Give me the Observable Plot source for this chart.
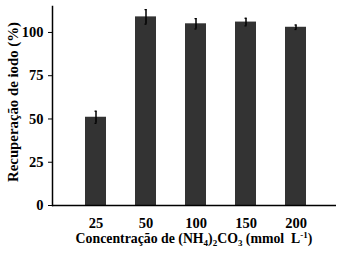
<!DOCTYPE html>
<html><head><meta charset="utf-8">
<script src="https://cdn.jsdelivr.net/npm/d3@7"></script>
<script src="https://cdn.jsdelivr.net/npm/@observablehq/plot@0.6"></script>
<style>body{margin:0;background:#fff}</style>
</head><body><div id="chart"></div>
<script>
const categories = ["25", "50", "100", "150", "200"];
const values = [51, 109, 105, 106, 103];
const errors = [3.5, 4.2, 3, 2.2, 1.3];
const yTicks = [0, 25, 50, 75, 100];
const yLabel = "Recuperação de iodo (%)";
const xLabelParts = [
  ["Concentração de (NH", "n"], ["4", "sub"], [")", "n"], ["2", "sub"], ["CO", "n"], ["3", "sub"],
  [" (mmol\u00a0\u00a0L", "n"], ["-1", "sup"], [")", "n"]
];
const data = categories.map((c, i) => ({c, v: values[i], e: errors[i]}));
const font = "'Liberation Serif', 'Times New Roman', serif";

const plot = Plot.plot({
  width: 340, height: 253,
  marginLeft: 52, marginRight: 4, marginTop: 6, marginBottom: 48,
  style: {fontFamily: font, fontWeight: "bold", fontSize: "14.5px", color: "#000", background: "#fff"},
  x: {domain: categories, padding: 0.59, insetLeft: 3, label: null, tickSize: 0, tickPadding: 12},
  y: {domain: [0, 115], ticks: yTicks, label: null, tickSize: 4, tickPadding: 5},
  marks: [
    Plot.barY(data, {x: "c", y: "v", fill: "#333"}),
    Plot.ruleX(data, {x: "c", y1: d => d.v - d.e, y2: d => d.v + d.e, stroke: "#000", strokeWidth: 1.5}),
    Plot.tickY(data, {x: "c", y: d => d.v + d.e, insetLeft: 9.5, insetRight: 9.5, stroke: "#000", strokeWidth: 1.2}),
    Plot.tickY(data, {x: "c", y: d => d.v - d.e, insetLeft: 9.5, insetRight: 9.5, stroke: "#000", strokeWidth: 1.2}),
    Plot.ruleY([0], {stroke: "#000", strokeWidth: 1.5}),
    Plot.frame({anchor: "left", stroke: "#000", strokeWidth: 1.5})
  ]
});

const svg = d3.select(plot);
svg.append("text")
  .attr("transform", "translate(13,102) rotate(-90)")
  .attr("text-anchor", "middle")
  .attr("dy", "0.35em")
  .style("font-family", font).style("font-weight", "bold").style("font-size", "14.8px")
  .attr("fill", "#000")
  .text(yLabel);

const xl = svg.append("text")
  .attr("x", 194).attr("y", 243)
  .attr("text-anchor", "middle")
  .style("font-family", font).style("font-weight", "bold").style("font-size", "13.8px")
  .attr("fill", "#000");
xLabelParts.forEach(([t, kind], i) => {
  const prev = i > 0 ? xLabelParts[i - 1][1] : "n";
  let dy = 0;
  if (prev === "sub") dy -= 3;
  if (prev === "sup") dy += 5;
  if (kind === "sub") dy += 3;
  if (kind === "sup") dy -= 5;
  const ts = xl.append("tspan").text(t).attr("dy", dy);
  if (kind !== "n") ts.attr("font-size", "9px");
});

document.getElementById("chart").append(plot);
</script>
</body></html>
